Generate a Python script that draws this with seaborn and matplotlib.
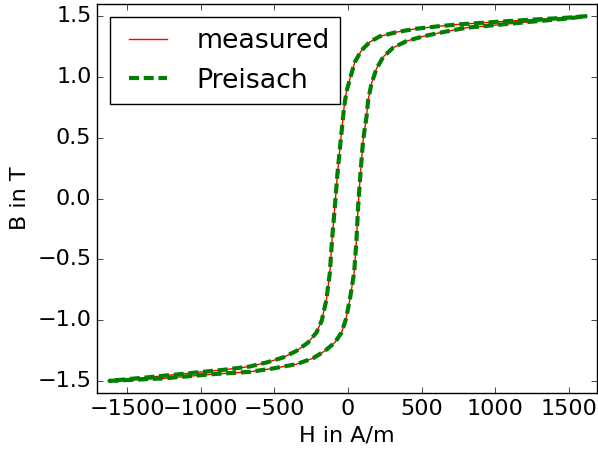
import numpy as np
import pandas as pd
import matplotlib
matplotlib.use("Agg")
import matplotlib.pyplot as plt
import seaborn as sns

# Descending branch (H from +max to -max)
H_down = [1620, 1484, 1230, 1030, 747, 623, 465, 329, 215, 147, 91, 46, 16, -11,
          -27, -50, -72, -90, -109, -124, -147, -179, -215, -272, -351, -442,
          -554, -668, -850, -1030, -1200, -1370, -1620]
B_down = [1.50, 1.487, 1.470, 1.455, 1.432, 1.418, 1.397, 1.369, 1.334, 1.287,
          1.219, 1.123, 1.000, 0.880, 0.754, 0.481, 0.208, -0.066, -0.339,
          -0.611, -0.830, -1.005, -1.103, -1.185, -1.254, -1.308, -1.349,
          -1.382, -1.410, -1.431, -1.452, -1.472, -1.500]
# Ascending branch (H from -max to +max)
H_up = [-1620, -1257, -917, -668, -510, -351, -238, -158, -90, -45, -15, 12, 41,
        57, 68, 84, 102, 125, 136, 159, 193, 238, 306, 397, 510, 645, 804, 1031,
        1250, 1484, 1620]
B_up = [-1.500, -1.480, -1.445, -1.426, -1.398, -1.363, -1.314, -1.254, -1.185,
        -1.103, -0.994, -0.830, -0.611, -0.339, -0.066, 0.208, 0.481, 0.672,
        0.810, 0.946, 1.069, 1.164, 1.241, 1.295, 1.334, 1.369, 1.405, 1.430,
        1.455, 1.480, 1.500]

H_meas = H_down + H_up
B_meas = B_down + B_up
H_preisach = list(H_meas)
B_preisach = list(B_meas)

x_ticks = [-1500, -1000, -500, 0, 500, 1000, 1500]
y_ticks = [-1.5, -1.0, -0.5, 0.0, 0.5, 1.0, 1.5]

plt.style.use("classic")
plt.rcParams["figure.facecolor"] = "white"
plt.rcParams["savefig.facecolor"] = "white"
plt.rcParams["lines.scale_dashes"] = False
plt.rcParams["font.family"] = ["DejaVu Sans"]

df_m = pd.DataFrame({"H": H_meas, "B": B_meas, "i": range(len(H_meas))})
df_p = pd.DataFrame({"H": H_preisach, "B": B_preisach, "i": range(len(H_preisach))})

fig = plt.figure(figsize=(5.98, 4.55), dpi=100)
ax = fig.add_axes([97 / 598, 1 - 393 / 455, 500 / 598, 389 / 455])

sns.lineplot(data=df_m, x="H", y="B", sort=False, estimator=None, ax=ax,
             color="red", linewidth=1.0, label="measured")
sns.lineplot(data=df_p, x="H", y="B", sort=False, estimator=None, ax=ax,
             color="green", linewidth=3.0, linestyle=(0, (7.2, 3.4)),
             label="Preisach")

ax.set_xlim(-1705, 1690)
ax.set_ylim(-1.6, 1.6)
ax.set_xticks(x_ticks)
ax.set_yticks(y_ticks)
ax.set_yticklabels([f"{v:.1f}".replace("-", "\u2212") for v in y_ticks])
ax.set_xticklabels([str(v).replace("-", "\u2212") for v in x_ticks])
ax.tick_params(labelsize=16, direction="in", top=True, right=True, length=4)
ax.set_xlabel("H in A/m", fontsize=16)
ax.set_ylabel("B in T", fontsize=16)
for s in ax.spines.values():
    s.set_linewidth(1.0)

leg = ax.legend(loc="upper left", fontsize=19.3, frameon=True, fancybox=False,
                handlelength=2.0, handletextpad=0.8, borderpad=0.4,
                labelspacing=0.5, borderaxespad=0.5, numpoints=2)
leg.get_frame().set_edgecolor("black")
leg.get_frame().set_linewidth(1.0)

fig.savefig("out.png", dpi=100)
